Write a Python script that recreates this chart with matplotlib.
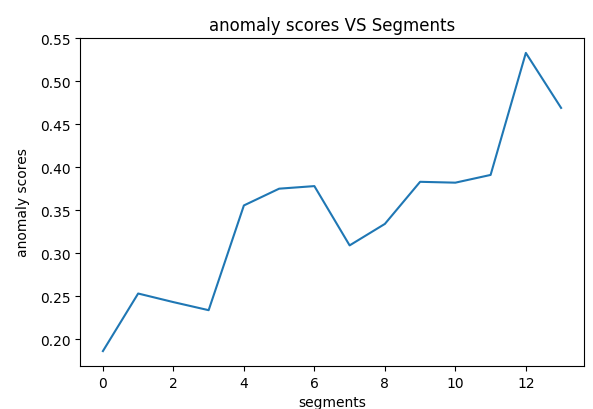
import matplotlib
matplotlib.use("Agg")
import matplotlib.pyplot as plt

# anomaly score per segment
segments = list(range(14))
scores = [0.186, 0.253, 0.243, 0.2336, 0.3555, 0.375, 0.378, 0.309,
          0.334, 0.383, 0.382, 0.391, 0.533, 0.469]

fig = plt.figure(figsize=(5.93, 4.10), dpi=100)
ax = fig.add_axes([80 / 593, 43 / 410, 504 / 593, 328 / 410])

ax.plot(segments, scores)
ax.set_title("anomaly scores VS Segments")
ax.set_xlabel("segments")
ax.set_ylabel("anomaly scores", labelpad=7)
ax.set_xticks([0, 2, 4, 6, 8, 10, 12])

fig.savefig("out.png", dpi=100)
